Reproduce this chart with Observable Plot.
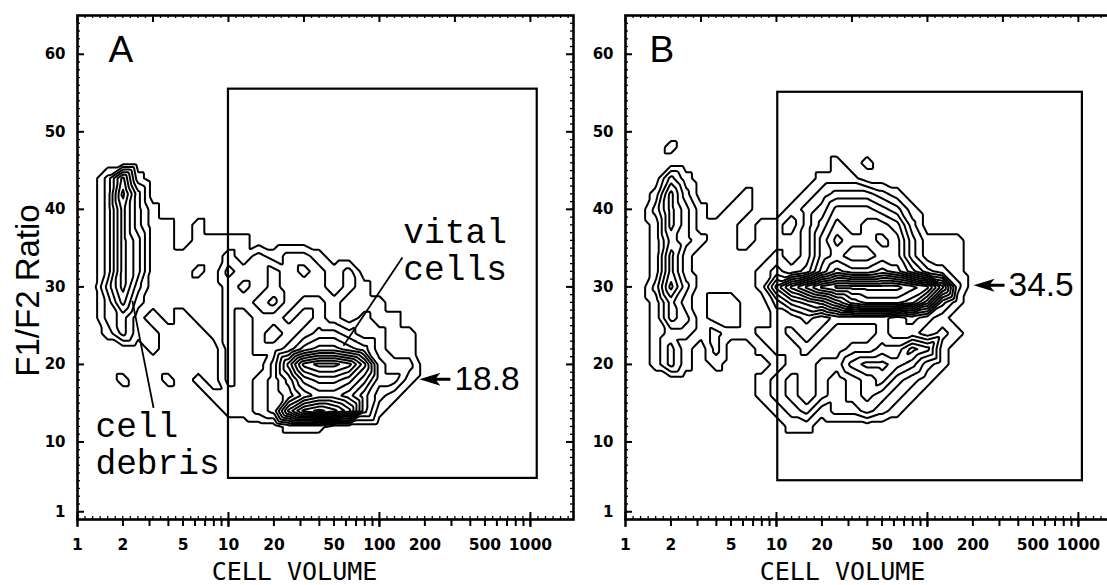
<!DOCTYPE html>
<html><head><meta charset="utf-8">
<script src="https://cdn.jsdelivr.net/npm/d3@7"></script>
<script src="https://cdn.jsdelivr.net/npm/@observablehq/plot@0.6"></script>
<style>
html,body{margin:0;padding:0;background:#fff;overflow:hidden;}
#fig{position:relative;width:1107px;height:585px;overflow:hidden;background:#fff;}
#fig > svg{position:absolute;top:0;}
</style></head><body><div id="fig"></div>
<script>
// ---------- axis tick values ----------
const xLabelTicks = [1, 2, 5, 10, 20, 50, 100, 200, 500, 1000];
const xTicks = [1,2,3,4,5,6,7,8,9,10,20,30,40,50,60,70,80,90,100,200,300,400,500,600,700,800,900,1000];
const xDecades = [1, 10, 100, 1000];
const xTopTicks = [1, 3.162, 10, 31.62, 100, 316.2, 1000];
const yLabelTicks = [1, 10, 20, 30, 40, 50, 60];
const yMajor = [1, 10, 20, 30, 40, 50, 60];

// ---------- contour level grids ----------
// columns: log10(volume) = 0.1 .. 2.4 step 0.1 ; rows: ratio from top, step 2
// digit = number of contour lines enclosing that cell (base-36)
const gridLog0 = 0.1, gridLogStep = 0.1, gridRowStep = 2;
const gridA_top = 46;
const gridA = [
  "000000000000000000000000", // 46
  "026100000000000000000000", // 44
  "027300000000000000000000", // 42
  "026310000000000000000000", // 40
  "026311010000000000000000", // 38
  "026411011110000000000000", // 36
  "026411111212122100000000", // 34
  "026411121322323212000000", // 32
  "036311111232322212100000", // 30
  "025211111223423321110000", // 28
  "023101011212232321211000", // 26
  "013110001212123443221100", // 24
  "000010000212235665421100", // 22
  "00000000021137bccb832200", // 20
  "001001010212358998633100", // 18
  "000000001112346776421000", // 16
  "00000000011238bcb9410000", // 14
  "000000000000011100000000", // 12
  "000000000000000000000000"  // 10
];
const gridB_top = 50;
const gridB = [
  "000000000000000000000000", // 50
  "001000000000000000000000", // 48
  "000000000000010100000000", // 46
  "003100000000111000000000", // 44
  "015200010001233321000000", // 42
  "025310110012355543100000", // 40
  "015311101102465665200000", // 38
  "014321101112576676311100", // 36
  "015211111212565566311100", // 34
  "015211112323687787532100", // 32
  "02631111269bdeeeeedc8200", // 30
  "01421001135679bcccb83100", // 28
  "014310011223233332321000", // 26
  "012212112232322232212100", // 24
  "013102001223223344651000", // 22
  "013101000122335665421000", // 20
  "000000001232323453210000", // 18
  "000000001232323432100000", // 16
  "000000000123122321000000", // 14
  "000000000011000000000000", // 12
  "000000000000000000000000"  // 10
];

// ---------- gates, arrows, notes ----------
const gateA = [{x1: 10, x2: 1110, y1: 5.3, y2: 55.5}];
const gateB = [{x1: 10.2, x2: 1063, y1: 5.0, y2: 55.1}];
const arrowA = [{x: 184, y: 18.1, label: "18.8"}];
const arrowB = [{x: 202, y: 30.2, label: "34.5"}];
const notesA = [
  {x: 144, y: 30.95, text: "vital\ncells"},
  {x: 1.315, y: 5.93, text: "cell\ndebris"}
];
const leadersA = [
  {x1: 3.19, y1: 14.4, x2: 2.31, y2: 28.2},
  {x1: 142, y1: 33.8, x2: 57.8, y2: 22.4}
];
const letters = ["A", "B"];

const thresholds = d3.range(0.6, 15, 1);
const tickFont = "DejaVu Sans, sans-serif";
const sansFont = "Liberation Sans, Arial, Helvetica, sans-serif";

const arrowSymbol = {draw(ctx) {
  ctx.moveTo(0, 0); ctx.lineTo(21, -6.5); ctx.lineTo(17, -1.5); ctx.lineTo(31, -1.5);
  ctx.lineTo(31, 1.5); ctx.lineTo(17, 1.5); ctx.lineTo(21, 6.5); ctx.closePath();
}};

// grid -> sample points (volume, ratio, level)
function gridPoints(rows, top) {
  const pts = [];
  rows.forEach((r, j) => Array.from(r).forEach((c, i) => {
    pts.push({x: 10 ** (gridLog0 + gridLogStep * i), y: top - gridRowStep * j, v: parseInt(c, 36)});
  }));
  return pts;
}

const plotW = 496, plotH = 504;
const xBeads = d3.range(0, 3.3, 0.05).map(k => 10 ** k);
const yBeads = d3.range(1, 65, 1);

function panel(grid, gridTop, gate, arrow, letter, letterDx, notes, leaders, withYLabel) {
  const marks = [
    Plot.contour(gridPoints(grid, gridTop), {
      x: "x", y: "y", value: "v", interpolate: "barycentric", pixelSize: 1.5,
      thresholds, stroke: "black", strokeWidth: 2, fill: "none", strokeLinejoin: "round"
    }),
    Plot.rect(gate, {x1: "x1", x2: "x2", y1: "y1", y2: "y2", fill: "none", stroke: "black", strokeWidth: 2.2}),
    Plot.frame({stroke: "black", strokeWidth: 2.6}),
    Plot.tickX(xTicks, {x: d => d, insetTop: plotH, insetBottom: -7, strokeWidth: 2}),
    Plot.tickX(xDecades, {x: d => d, insetTop: plotH - 7, insetBottom: -8, strokeWidth: 2}),
    Plot.tickX(xTopTicks, {x: d => d, insetBottom: plotH - 7, strokeWidth: 2}),
    Plot.tickX(xBeads, {x: d => d, insetBottom: plotH - 3, strokeWidth: 1.3}),
    Plot.tickX(xBeads, {x: d => d, insetTop: plotH - 3, strokeWidth: 1.3}),
    Plot.tickY(yMajor, {y: d => d, insetRight: plotW - 7, strokeWidth: 2}),
    Plot.tickY(yMajor.slice(1), {y: d => d, insetLeft: plotW - 7, strokeWidth: 2}),
    Plot.tickY(yBeads, {y: d => d, insetRight: plotW - 3, strokeWidth: 1.3}),
    Plot.tickY(yBeads, {y: d => d, insetLeft: plotW - 3, strokeWidth: 1.3}),
    Plot.text(xLabelTicks, {x: d => d, frameAnchor: "bottom", dy: 19, lineAnchor: "top", textAnchor: "middle",
      text: d => String(d), fontSize: 15.5, fontWeight: "bold", fontFamily: tickFont}),
    Plot.text(yLabelTicks, {y: d => d, frameAnchor: "left", dx: -12, textAnchor: "end", lineAnchor: "middle",
      text: d => String(d), fontSize: 15, fontWeight: "bold", fontFamily: tickFont}),
    Plot.text(["CELL VOLUME"], {frameAnchor: "bottom-left", dx: 217, dy: 60, textAnchor: "middle", lineAnchor: "bottom",
      fontSize: 25, fontFamily: "DejaVu Sans Mono, monospace"}),
    Plot.text([letter], {frameAnchor: "top-left", dx: letterDx, dy: 20, textAnchor: "start", lineAnchor: "top",
      fontSize: 37, fontFamily: sansFont}),
    Plot.dot(arrow, {x: "x", y: "y", symbol: arrowSymbol, r: 5, fill: "black", stroke: "none"}),
    Plot.text(arrow, {x: "x", y: "y", text: "label", dx: 35, textAnchor: "start", lineAnchor: "middle",
      fontSize: 33.5, fontFamily: sansFont})
  ];
  if (leaders) marks.push(Plot.link(leaders, {x1: "x1", y1: "y1", x2: "x2", y2: "y2", stroke: "black", strokeWidth: 1.8}));
  if (notes) marks.push(Plot.text(notes, {x: "x", y: "y", text: "text", textAnchor: "start", lineAnchor: "bottom",
      fontSize: 34.5, lineHeight: 1.05, fontFamily: "Liberation Mono, Courier New, monospace", fill: "black"}));
  if (withYLabel) marks.push(Plot.text(["F1/F2 Ratio"], {frameAnchor: "left", dx: -49, dy: 23, rotate: -90,
      textAnchor: "middle", lineAnchor: "middle", fontSize: 33, fontFamily: sansFont}));
  return Plot.plot({
    width: 580, height: 585, marginLeft: 77, marginRight: 7, marginTop: 15, marginBottom: 66,
    x: {type: "log", domain: [1, 1930], axis: null},
    y: {domain: [0, 65], axis: null},
    style: {background: "transparent", color: "black", fontFamily: sansFont, overflow: "visible"},
    marks
  });
}

const fig = document.getElementById("fig");
const svgA = panel(gridA, gridA_top, gateA, arrowA, letters[0], 31, notesA, leadersA, true);
const svgB = panel(gridB, gridB_top, gateB, arrowB, letters[1], 24, null, null, false);
svgA.style.left = "0px";
svgB.style.left = "548px";
fig.appendChild(svgA);
fig.appendChild(svgB);
</script></body></html>
